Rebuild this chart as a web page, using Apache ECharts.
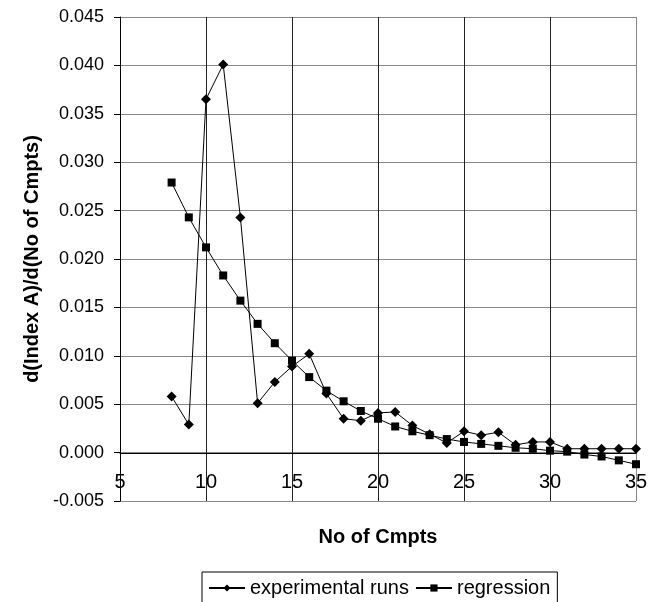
<!DOCTYPE html>
<html><head><meta charset="utf-8">
<script src="https://cdn.jsdelivr.net/npm/echarts@6/dist/echarts.min.js"></script>
<style>html,body{margin:0;padding:0;background:#fff}#c{width:657px;height:602px}</style>
</head><body><div id="c"></div>
<script>
const xValues = [8,9,10,11,12,13,14,15,16,17,18,19,20,21,22,23,24,25,26,27,28,29,30,31,32,33,34,35];
const experimentalRuns = [0.0058,0.0029,0.0365,0.0401,0.0243,0.0051,0.0073,0.0089,0.0102,0.0061,0.0035,0.0033,0.0041,0.0042,0.0028,0.0019,0.0010,0.0022,0.0018,0.0021,0.0008,0.0011,0.0011,0.0004,0.0004,0.0004,0.0004,0.0004];
const regression = [0.0279,0.0243,0.0212,0.0183,0.0157,0.0133,0.0113,0.0095,0.0078,0.0064,0.0053,0.0043,0.0035,0.0027,0.0022,0.0018,0.0014,0.0011,0.0009,0.0007,0.0005,0.0004,0.0002,0.0001,-0.0002,-0.0004,-0.0008,-0.0012];
const seriesNames = ['experimental runs','regression'];
const xName = 'No of Cmpts';
const yName = 'd(Index A)/d(No of Cmpts)';

const font = 'Liberation Sans, Arial, sans-serif';
const chart = echarts.init(document.getElementById('c'), null, {renderer:'canvas'});
chart.setOption({
  animation:false,
  backgroundColor:'#fff',
  grid:{left:120,right:21,top:17,bottom:101,containLabel:false},
  legend:{
    data:seriesNames,
    left:202, top:572,
    borderColor:'#000', borderWidth:1,
    padding:[6,7,12,6],
    itemGap:6, itemWidth:36, itemHeight:9,
    textStyle:{fontFamily:font,fontSize:20,color:'#000'}
  },
  xAxis:{
    type:'value', min:5, max:35, interval:5,
    offset:-48,
    name:xName, nameLocation:'middle', nameGap:74,
    nameTextStyle:{fontFamily:font,fontSize:20,fontWeight:'bold',color:'#000'},
    axisLine:{onZero:false,lineStyle:{color:'#000',width:1}},
    axisTick:{show:false},
    axisLabel:{fontFamily:font,fontSize:20,color:'#000',margin:19},
    splitLine:{show:true,lineStyle:{color:['#000','#222','#222','#222','#222','#222','#888'],width:1}}
  },
  yAxis:{
    type:'value', min:-0.005, max:0.045, interval:0.005,
    name:yName, nameLocation:'middle', nameGap:78, nameRotate:90,
    nameTextStyle:{fontFamily:font,fontSize:20,fontWeight:'bold',color:'#000'},
    axisLine:{show:true,onZero:false,lineStyle:{color:'#000',width:1}},
    axisTick:{show:true,length:6,lineStyle:{color:'#000'}},
    axisLabel:{fontFamily:font,fontSize:18,color:'#000',margin:16,formatter:v=>v.toFixed(3)},
    splitLine:{show:true,lineStyle:{color:'#888',width:1}}
  },
  series:[
    {name:seriesNames[0],type:'line',data:xValues.map((x,i)=>[x,experimentalRuns[i]]),
     symbol:'diamond',symbolSize:10,lineStyle:{color:'#000',width:1},itemStyle:{color:'#000'},color:'#000'},
    {name:seriesNames[1],type:'line',data:xValues.map((x,i)=>[x,regression[i]]),
     symbol:'rect',symbolSize:8,lineStyle:{color:'#000',width:1},itemStyle:{color:'#000'},color:'#000'}
  ]
});
</script></body></html>
